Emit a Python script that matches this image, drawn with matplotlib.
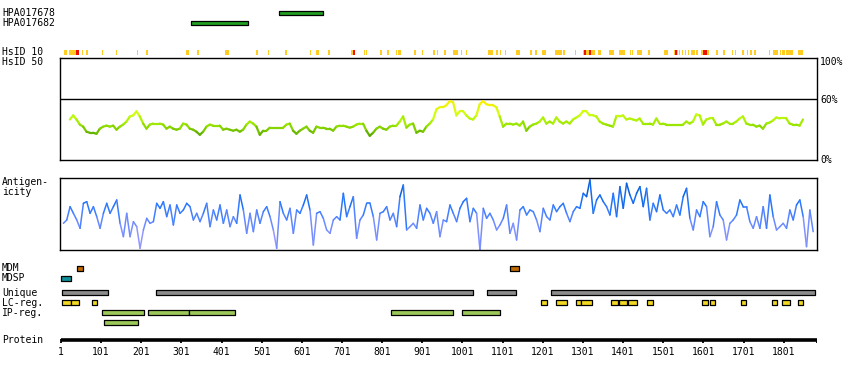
import matplotlib
matplotlib.use('Agg')
import matplotlib.pyplot as plt
import numpy as np
from matplotlib.collections import LineCollection
from matplotlib.colors import LinearSegmentedColormap

# figure size in pixels
W, H = 850, 380
prot_len = 1884

# antibodies (residue ranges)
hpa_names = ['HPA017678', 'HPA017682']
hpa_ranges = [(543, 652), (326, 466)]

# HsID 10 marks (residue ranges)
hsid_yellow = [(8, 15), (21, 45), (53, 56), (63, 66), (103, 105), (138, 140), (190, 192), (213, 217),
               (312, 319), (340, 344), (410, 413), (415, 419), (487, 491), (517, 518), (559, 564),
               (621, 623), (636, 643), (666, 670), (723, 733), (755, 758), (760, 763), (795, 799),
               (813, 817), (835, 838), (841, 846), (880, 884), (900, 902), (927, 932), (937, 939),
               (955, 959), (977, 979), (981, 988), (997, 999), (1010, 1011), (1064, 1076),
               (1084, 1088), (1094, 1097), (1108, 1109), (1134, 1143), (1169, 1174), (1181, 1186),
               (1199, 1209), (1231, 1249), (1251, 1256), (1281, 1283), (1302, 1329), (1338, 1345),
               (1366, 1378), (1391, 1406), (1418, 1420), (1423, 1425), (1436, 1446), (1463, 1468),
               (1503, 1513), (1528, 1538), (1541, 1542), (1548, 1549), (1555, 1556), (1563, 1564),
               (1570, 1580), (1583, 1587), (1595, 1613), (1632, 1637), (1650, 1655), (1672, 1675),
               (1679, 1682), (1697, 1702), (1710, 1712), (1717, 1720), (1727, 1732), (1764, 1767),
               (1774, 1787), (1792, 1794), (1797, 1804), (1806, 1822), (1836, 1849)]
hsid_red = [(38, 45), (728, 733), (1304, 1308), (1315, 1321), (1531, 1535), (1600, 1610)]

# HsID 50 similarity (%), sampled every 8.3 residues from residue 23
sim_start, sim_step = 23, 8.3
sim_vals = [40, 44, 40, 35, 33, 28, 27, 27, 26, 31,
            33, 34, 33, 34, 30, 33, 35, 38, 43, 44,
            48, 43, 36, 31, 35, 36, 36, 36, 35, 31,
            33, 31, 30, 31, 36, 35, 31, 30, 28, 25,
            28, 33, 35, 34, 34, 34, 30, 31, 30, 29,
            30, 28, 30, 35, 38, 36, 33, 25, 29, 29,
            32, 32, 32, 32, 32, 35, 36, 29, 26, 29,
            31, 33, 29, 27, 33, 32, 32, 31, 31, 29,
            33, 34, 34, 33, 32, 33, 35, 36, 36, 29,
            24, 27, 31, 33, 31, 30, 33, 34, 34, 38,
            43, 32, 35, 36, 27,
            29, 28, 33, 36, 40, 50, 52, 52, 54, 58,
            57, 44, 48, 48, 44, 41, 40, 44, 55, 58,
            55, 54, 54, 52, 43, 33, 36, 36, 35, 36,
            34, 38, 29, 33, 35, 36, 38, 42, 36, 38,
            36, 42, 38, 36, 38, 36, 40, 42, 44, 48,
            48, 44, 44, 43, 38, 36, 35, 34, 33, 43,
            43, 44, 40, 41, 40, 39, 41, 36, 36, 36,
            35, 41, 36, 36, 35, 35, 35, 35, 35, 35,
            38, 36, 38, 45, 44, 35, 40, 41, 41, 35,
            35, 36, 38, 36, 36, 38, 41, 43, 36, 35,
            35, 33, 34, 31, 36, 37, 39, 42, 41, 41,
            41, 36, 35, 35, 34, 40]

# antigenicity (arbitrary units), sampled every 8.3 residues from residue 7
ant_start, ant_step = 7, 8.3
ant_vals = [80, 90, 130, 110, 90, 65, 140, 145, 110, 130,
            100, 65, 110, 140, 110, 130, 150, 80, 40, 110,
            40, 85, 70, 5, 60, 95, 80, 85, 140, 125,
            145, 100, 135, 75, 135, 110, 120, 140, 130, 90,
            110, 85, 110, 140, 70, 120, 90, 135, 80, 120,
            70, 100, 80, 165, 120, 50, 110, 55, 120, 80,
            115, 130, 100, 60, 5, 145, 110, 90, 125, 50,
            120, 110, 135, 165, 120, 15, 110, 115, 95, 60,
            50, 90, 100, 90, 170, 100, 130, 160, 35, 90,
            105, 140, 140, 100, 30, 110, 115, 130, 90, 110,
            70, 160, 195, 60, 70, 80, 65,
            135, 90, 125, 110, 80, 115, 40, 90, 85, 135,
            110, 85, 125, 145, 155, 85, 125, 110, 0, 125,
            95, 110, 90, 60, 75, 95, 135, 50, 80, 30,
            120, 130, 105, 120, 115, 90, 55, 125, 100, 90,
            135, 115, 130, 140, 110, 85, 115, 130, 125, 170,
            160, 210, 110, 150, 165, 145, 130, 105, 170, 100,
            190, 125, 200, 165, 140, 170, 190, 130, 185, 90,
            140, 115, 165, 120, 110, 120, 100, 135, 105, 160,
            185, 95, 60, 120, 100, 145, 130, 40, 70, 145,
            105, 90, 30, 80, 90, 105, 150, 130, 130, 85,
            65, 100, 65, 130, 65, 165, 100, 60, 70, 80,
            65, 120, 90, 135, 150, 100, 10, 120, 55]

# feature tracks (residue ranges)
mdm = [(42, 56), (1120, 1141)]
mdsp = [(1, 25)]
unique = [(4, 117), (238, 1025), (1063, 1133), (1222, 1878)]
lc_reg = [(4, 25), (27, 45), (79, 90), (1197, 1211), (1235, 1261), (1284, 1296), (1296, 1323),
          (1371, 1388), (1392, 1410), (1414, 1435), (1461, 1475), (1598, 1612), (1618, 1630),
          (1695, 1706), (1773, 1784), (1798, 1816), (1837, 1848)]
ip_reg = [(102, 207), (218, 320), (320, 434), (824, 976), (1001, 1094)]
ip_reg2 = [(109, 191)]
tick_res = list(range(1, 1802, 100))

mono = 'DejaVu Sans Mono'
fs = 7


def rect(x0, y0, x1, y1):
    return [x0 / W, 1 - y1 / H, (x1 - x0) / W, (y1 - y0) / H]


def colored_line(ax, xs, ys, cmap, vmin, vmax, lw):
    pts = np.column_stack([xs, ys])
    segs = np.stack([pts[:-1], pts[1:]], axis=1)
    vals = (np.asarray(ys[:-1]) + np.asarray(ys[1:])) / 2
    lc = LineCollection(segs, cmap=cmap, norm=plt.Normalize(vmin, vmax), linewidths=lw,
                        capstyle='round')
    lc.set_array(vals)
    ax.add_collection(lc)


fig = plt.figure(figsize=(W / 100, H / 100), dpi=100)
xl = (-1.5, prot_len)

# similarity panel
ax_sim = fig.add_axes(rect(60, 58.3, 817, 160.3))
ax_sim.set_xlim(*xl)
ax_sim.set_ylim(0, 100)
ax_sim.set_xticks([])
ax_sim.set_yticks([])
ax_sim.axhline(60, color='black', lw=1)
sim_cmap = LinearSegmentedColormap.from_list(
    'sim', [(0, '#5aa800'), (0.3, '#99e600'), (0.6, '#ccff11'), (1, '#ffee00')])
sim_x = sim_start + np.arange(len(sim_vals)) * sim_step
colored_line(ax_sim, sim_x, sim_vals, sim_cmap, 25, 58, 1.6)

# antigenicity panel
ax_ant = fig.add_axes(rect(60, 178.3, 817, 250))
ax_ant.set_xlim(*xl)
ax_ant.set_ylim(0, 215)
ax_ant.set_xticks([])
ax_ant.set_yticks([])
ant_cmap = LinearSegmentedColormap.from_list(
    'ant', [(0, '#b0a0ff'), (0.35, '#6f8cff'), (0.6, '#2a78ff'), (0.8, '#0a66e8'), (1, '#0048a8')])
ant_x = ant_start + np.arange(len(ant_vals)) * ant_step
colored_line(ax_ant, ant_x, ant_vals, ant_cmap, 0, 215, 1.1)

for a in (ax_sim, ax_ant):
    for s in a.spines.values():
        s.set_linewidth(1)

# tracks, drawn in residue x and pixel y
ax = fig.add_axes(rect(60, 0, 817, H))
ax.set_xlim(*xl)
ax.set_ylim(H, 0)
ax.axis('off')


def bars(ranges, y, h, color, edge=True):
    ax.broken_barh([(s, e - s + 1) for s, e in ranges], (y, h), facecolors=color,
                   edgecolors='black' if edge else 'none', linewidth=0.9 if edge else 0)


for r, y in zip(hpa_ranges, [10.5, 20.5]):
    bars([r], y, 4, '#22a022')

ax.broken_barh([(s, max(e - s + 1, 2.5)) for s, e in hsid_yellow], (50, 4.5),
               facecolors='#ffcc22', linewidth=0)
ax.broken_barh([(s, max(e - s + 1, 2.5)) for s, e in hsid_red], (50, 4.5),
               facecolors='#ee1100', linewidth=0)

bars(mdm, 265.5, 5, '#c06a00')
bars(mdsp, 275.5, 5, '#10909a')
bars(unique, 290.2, 4.3, '#8c8c8c')
bars(lc_reg, 300.2, 4.3, '#f2d822')
bars(ip_reg, 310.2, 4.3, '#9cc85a')
bars(ip_reg2, 320.2, 4.3, '#9cc85a')

# protein axis
ax.plot([1, prot_len], [339.5, 339.5], color='black', lw=2.6, solid_capstyle='butt')
for t in tick_res + [prot_len]:
    ax.plot([t, t], [338.5, 343.3], color='black', lw=1.3, solid_capstyle='butt')
for t in tick_res:
    ax.text(t, 352, str(t), ha='center', va='center', fontsize=fs, family=mono)

# labels
labels = [('HPA017678', 12.5), ('HPA017682', 22.5), ('HsID 10', 52), ('HsID 50', 62),
          ('Antigen-', 182), ('icity', 192), ('MDM', 268), ('MDSP', 278), ('Unique', 292.5),
          ('LC-reg.', 302.5), ('IP-reg.', 312.5), ('Protein', 340)]
for txt, y in labels:
    fig.text(2 / W, 1 - y / H, txt, ha='left', va='center', fontsize=fs, family=mono)
for txt, y in [('100%', 62), ('60%', 100), ('0%', 160)]:
    fig.text(820 / W, 1 - y / H, txt, ha='left', va='center', fontsize=fs, family=mono)

fig.savefig('out.png', dpi=100)
